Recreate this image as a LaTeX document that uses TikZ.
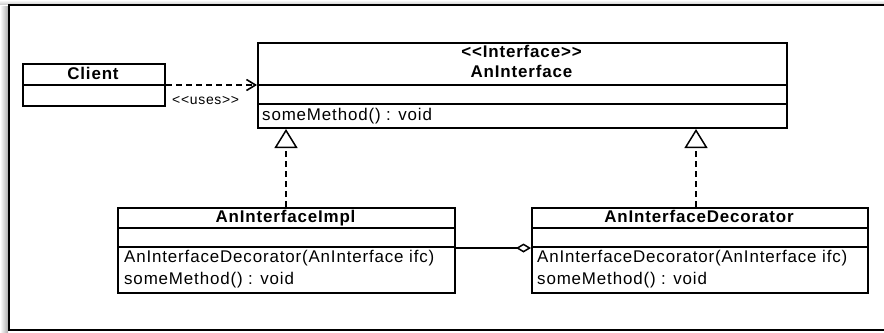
\documentclass[tikz,border=0pt]{standalone}
\usepackage{fontspec}
\setmainfont{Liberation Sans}[Ligatures=TeXOff, LetterSpace=5]
\usetikzlibrary{arrows.meta}

\begin{document}
\begin{tikzpicture}[x=1bp, y=-1bp,
  box/.style={draw, line width=2bp, inner sep=0pt, anchor=north west},
  divider/.style={line width=1.6bp},
  title/.style={font=\bfseries\fontsize{17}{20}\selectfont, inner sep=0pt, anchor=base},
  member/.style={font=\fontsize{17}{20}\selectfont, inner sep=0pt, anchor=base west},
  stereo/.style={font=\fontsize{14}{16}\selectfont, inner sep=0pt, anchor=base west},
  dep/.style={line width=2bp, dash pattern=on 6bp off 4bp},
  assoc/.style={line width=2bp},
  realize/.style={dep, -{Triangle[open, length=19bp, width=23bp, line width=1.5bp]}},
]
\useasboundingbox (0,0) rectangle (884,332);
\clip (0,0) rectangle (884,332);

% frame with its soft shadow
\shade[top color=white, bottom color=gray!35] (0,0) rectangle (884,4);
\shade[left color=white, right color=gray!65] (0,6) rectangle (8,332);
\draw[line width=2.2bp] (900,5) -- (9,5) -- (9,330) -- (900,330);

% Client
\node[box, minimum width=142bp, minimum height=42bp] (client) at (22,63) {};
\draw[divider] (22,85) -- (164,85);
\node[title] (clientname) at (93,79) {Client};

% AnInterface
\node[box, minimum width=529bp, minimum height=85bp] (iface) at (257,42) {};
\draw[divider] (257,85) -- (786,85);
\draw[divider] (257,104) -- (786,104);
\node[title] (ifacestereo) at (521.5,57) {<<Interface>>};
\node[title] (ifacename) at (521.5,77) {AnInterface};
\node[member] (ifacem) at (262,120) {someMethod() : void};

% AnInterfaceImpl
\node[box, minimum width=337bp, minimum height=85bp] (impl) at (117,207) {};
\draw[divider] (117,228) -- (454,228);
\draw[divider] (117,247) -- (454,247);
\node[title] (implname) at (285.5,222) {AnInterfaceImpl};
\node[member] (implm1) at (124,262.5) {AnInterfaceDecorator(AnInterface ifc)};
\node[member] (implm2) at (124,284) {someMethod() : void};

% AnInterfaceDecorator
\node[box, minimum width=336bp, minimum height=85bp] (dec) at (531,207) {};
\draw[divider] (531,228) -- (867,228);
\draw[divider] (531,247) -- (867,247);
\node[title] (decname) at (699,222) {AnInterfaceDecorator};
\node[member] (decm1) at (537,262.5) {AnInterfaceDecorator(AnInterface ifc)};
\node[member] (decm2) at (537,284) {someMethod() : void};

% usage dependency
\draw[dep, -{Straight Barb[length=9bp, width=11bp, line width=1.6bp]}]
  (client.east) -- (client.east -| iface.west);
\node[stereo] (uses) at (172,104) {<<uses>>};

% realizations
\coordinate (itop) at ([xshift=-0.5bp]impl.north);
\coordinate (dtop) at ([xshift=-4bp]dec.north);
\draw[realize] (itop) -- (itop |- iface.south);
\draw[realize] (dtop) -- (dtop |- iface.south);

% aggregation
\coordinate (aggy) at (0,248);
\draw[assoc, {Diamond[open, length=15bp, width=9bp, line width=1.5bp]}-]
  (dec.west |- aggy) -- (impl.east |- aggy);
\end{tikzpicture}
\end{document}
